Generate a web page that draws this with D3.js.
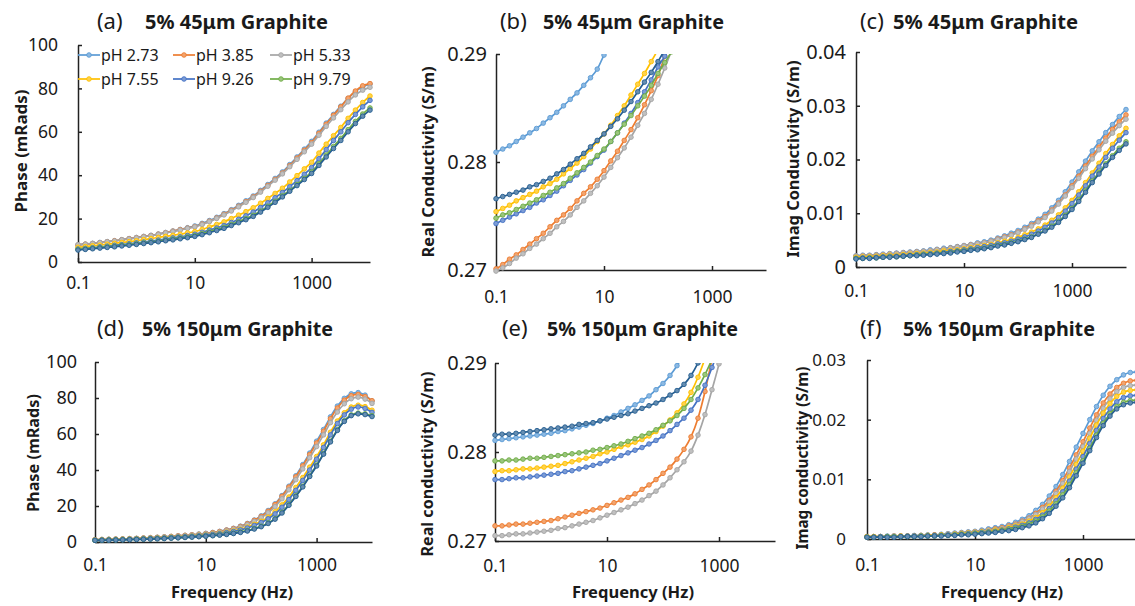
<!DOCTYPE html>
<html>
<head>
<meta charset="utf-8">
<script src="https://cdn.jsdelivr.net/npm/d3@7"></script>
<style>
  html, body { margin: 0; padding: 0; background: #fff; }
  svg { display: block; font-family: "Noto Sans", "Open Sans", sans-serif; }
</style>
</head>
<body>
<svg id="fig" width="1135" height="606"></svg>
<script>
// Measurement frequencies (Hz), 8 per decade from 0.1 Hz to 10 kHz
const frequency = [0.1,0.1334,0.1778,0.2371,0.3162,0.4217,0.5623,0.7499,1,1.334,1.778,2.371,3.162,4.217,5.623,7.499,10,13.34,17.78,23.71,31.62,42.17,56.23,74.99,100,133.4,177.8,237.1,316.2,421.7,562.3,749.9,1000,1334,1778,2371,3162,4217,5623,7499,10000];

const legendLabels = ["pH 2.73", "pH 3.85", "pH 5.33", "pH 7.55", "pH 9.26", "pH 9.79"];
const seriesColors = ["#5B9BD5", "#ED7D31", "#A5A5A5", "#FFC000", "#4472C4", "#70AD47", "#255E91"];

const xTickValues = [0.1, 10, 1000];
const phaseTicks = [0, 20, 40, 60, 80, 100];
const realTicks = [0.27, 0.28, 0.29];
const imagTicks45 = [0, 0.01, 0.02, 0.03, 0.04];
const imagTicks150 = [0, 0.01, 0.02, 0.03];

// (a) phase, 45 µm graphite (mrad)
const phase45 = [
  [7.9,8.2,8.6,9,9.4,9.8,10.3,10.8,11.3,11.8,12.3,12.9,13.6,14.3,15,15.8,16.6,17.8,19.1,20.6,22.3,24.1,26.1,28.2,30.4,33,35.7,38.5,41.5,44.9,48.4,52,55.6,59.8,64,68,71.8,75.4,78.5,80.8,82],
  [7.8,8.2,8.5,8.9,9.3,9.8,10.2,10.7,11.2,11.7,12.2,12.8,13.5,14.2,14.9,15.6,16.3,17.5,18.8,20.3,22,23.8,25.7,27.8,30,32.6,35.3,38.1,41,44.4,47.9,51.5,55,59.3,63.5,67.6,71.5,75.5,78.8,81.2,82.2],
  [7.9,8.2,8.5,8.9,9.3,9.7,10.2,10.6,11.1,11.6,12.1,12.7,13.4,14,14.7,15.5,16.2,17.3,18.6,20.1,21.7,23.5,25.4,27.5,29.7,32.2,34.9,37.7,40.6,43.9,47.3,50.8,54.3,58.4,62.5,66.4,70.2,73.8,77,79.2,80.5],
  [6.8,7.1,7.5,7.8,8.2,8.6,9,9.4,9.8,10.3,10.8,11.3,11.8,12.3,12.8,13.4,14,15,16.1,17.3,18.5,20,21.6,23.2,25,27.1,29.3,31.6,34,36.9,39.8,42.9,46,50.2,54.3,58.2,62,66.2,70,73.5,76.5],
  [6,6.3,6.6,7,7.3,7.7,8,8.4,8.8,9.2,9.7,10.1,10.6,11.1,11.6,12.2,12.8,13.7,14.7,15.7,16.8,18.2,19.7,21.3,23,25.1,27.3,29.6,32,34.7,37.5,40.4,43.5,47.6,51.8,56,60,64.2,68,71.5,74.5],
  [5.8,6.1,6.4,6.7,7,7.3,7.7,8,8.4,8.8,9.2,9.6,10.1,10.6,11.1,11.6,12.2,13.1,14,15,16,17.3,18.6,20,21.5,23.5,25.7,28,30.5,33,35.7,38.5,41.5,45.3,49.3,53.2,57,61,64.8,68.2,71],
  [5.5,5.8,6.1,6.4,6.7,7,7.4,7.7,8.1,8.5,8.9,9.3,9.8,10.2,10.7,11.2,11.8,12.6,13.5,14.5,15.5,16.8,18.1,19.5,21,23,25.2,27.5,30,32.6,35.2,38,40.8,44.5,48.4,52.3,56,60,63.8,67.2,70]
];

// (b) real conductivity, 45 µm graphite (S/m); readings stop once above the axis range
const realCond45 = [
  [0.2809,0.2812,0.2815,0.2819,0.2823,0.2827,0.2831,0.2836,0.2841,0.2846,0.2852,0.2858,0.2864,0.2871,0.2878,0.2886,0.2899,0.2910],
  [0.2701,0.2705,0.2710,0.2714,0.2719,0.2724,0.2729,0.2734,0.2740,0.2746,0.2751,0.2757,0.2764,0.2771,0.2777,0.2784,0.2792,0.2801,0.2810,0.2820,0.2830,0.2841,0.2853,0.2866,0.2880,0.2898,0.2918],
  [0.2699,0.2702,0.2706,0.2711,0.2715,0.2720,0.2724,0.2729,0.2734,0.2740,0.2745,0.2751,0.2758,0.2764,0.2771,0.2778,0.2786,0.2795,0.2804,0.2813,0.2823,0.2834,0.2845,0.2858,0.2872,0.2887,0.2903],
  [0.2754,0.2757,0.2760,0.2764,0.2767,0.2770,0.2773,0.2777,0.2780,0.2784,0.2789,0.2794,0.2799,0.2805,0.2812,0.2819,0.2826,0.2834,0.2843,0.2852,0.2862,0.2872,0.2882,0.2893,0.2904],
  [0.2743,0.2746,0.2749,0.2752,0.2755,0.2758,0.2762,0.2765,0.2769,0.2773,0.2778,0.2783,0.2788,0.2793,0.2799,0.2805,0.2811,0.2819,0.2827,0.2836,0.2845,0.2855,0.2865,0.2876,0.2888,0.2898,0.2910],
  [0.2748,0.2751,0.2753,0.2756,0.2759,0.2762,0.2765,0.2769,0.2772,0.2776,0.2780,0.2785,0.2790,0.2795,0.2800,0.2806,0.2812,0.2819,0.2827,0.2835,0.2843,0.2852,0.2861,0.2871,0.2882,0.2892,0.2902],
  [0.2766,0.2768,0.2770,0.2772,0.2774,0.2777,0.2779,0.2782,0.2785,0.2789,0.2793,0.2798,0.2803,0.2808,0.2814,0.2820,0.2826,0.2833,0.2840,0.2848,0.2856,0.2865,0.2874,0.2883,0.2893,0.2904]
];

// (c) imaginary conductivity, 45 µm graphite (S/m)
const imagCond45 = [
  [0.0021,0.0022,0.0022,0.0023,0.0024,0.0025,0.0026,0.0027,0.0028,0.0029,0.0030,0.0032,0.0033,0.0035,0.0036,0.0038,0.0040,0.0042,0.0045,0.0047,0.0050,0.0054,0.0058,0.0063,0.0068,0.0074,0.0081,0.0089,0.0098,0.0110,0.0124,0.0140,0.0158,0.0177,0.0197,0.0216,0.0233,0.0250,0.0265,0.0280,0.0293],
  [0.0020,0.0021,0.0021,0.0022,0.0023,0.0024,0.0025,0.0026,0.0027,0.0028,0.0029,0.0030,0.0032,0.0033,0.0035,0.0037,0.0039,0.0041,0.0043,0.0045,0.0048,0.0052,0.0056,0.0060,0.0065,0.0071,0.0078,0.0086,0.0094,0.0106,0.0119,0.0134,0.0151,0.0169,0.0188,0.0206,0.0223,0.0240,0.0256,0.0270,0.0283],
  [0.0020,0.0021,0.0021,0.0022,0.0023,0.0024,0.0025,0.0026,0.0027,0.0028,0.0029,0.0030,0.0032,0.0033,0.0035,0.0037,0.0039,0.0041,0.0043,0.0045,0.0048,0.0051,0.0055,0.0059,0.0064,0.0070,0.0076,0.0084,0.0092,0.0104,0.0117,0.0132,0.0148,0.0165,0.0183,0.0201,0.0218,0.0234,0.0249,0.0263,0.0275],
  [0.0018,0.0019,0.0019,0.0020,0.0021,0.0022,0.0022,0.0023,0.0024,0.0025,0.0026,0.0027,0.0028,0.0030,0.0031,0.0032,0.0034,0.0036,0.0038,0.0040,0.0042,0.0045,0.0048,0.0051,0.0055,0.0060,0.0065,0.0071,0.0078,0.0087,0.0097,0.0110,0.0124,0.0140,0.0157,0.0175,0.0193,0.0211,0.0228,0.0244,0.0258],
  [0.0016,0.0017,0.0017,0.0018,0.0019,0.0020,0.0020,0.0021,0.0022,0.0023,0.0024,0.0025,0.0026,0.0027,0.0029,0.0030,0.0032,0.0034,0.0036,0.0038,0.0040,0.0043,0.0045,0.0048,0.0052,0.0056,0.0061,0.0067,0.0074,0.0082,0.0092,0.0104,0.0118,0.0134,0.0151,0.0169,0.0186,0.0204,0.0221,0.0236,0.0250],
  [0.0016,0.0016,0.0017,0.0017,0.0018,0.0019,0.0019,0.0020,0.0021,0.0022,0.0023,0.0024,0.0025,0.0026,0.0027,0.0029,0.0030,0.0032,0.0033,0.0035,0.0037,0.0040,0.0042,0.0045,0.0048,0.0052,0.0056,0.0062,0.0068,0.0076,0.0085,0.0096,0.0109,0.0125,0.0142,0.0160,0.0176,0.0192,0.0207,0.0221,0.0233],
  [0.0015,0.0016,0.0016,0.0017,0.0018,0.0018,0.0019,0.0020,0.0021,0.0021,0.0022,0.0023,0.0024,0.0025,0.0026,0.0028,0.0029,0.0031,0.0032,0.0034,0.0036,0.0039,0.0041,0.0044,0.0047,0.0051,0.0055,0.0061,0.0067,0.0074,0.0083,0.0094,0.0107,0.0122,0.0139,0.0157,0.0173,0.0189,0.0204,0.0217,0.0229]
];

// (d) phase, 150 µm graphite (mrad)
const phase150 = [
  [1.3,1.4,1.5,1.6,1.7,1.85,2.0,2.2,2.4,2.6,2.85,3.1,3.4,3.7,4.0,4.4,4.8,5.3,5.9,6.7,7.6,8.8,10.3,12.2,14.5,17.5,21.2,25.8,31,36.8,43,49.4,56,62.5,69.5,75.5,79.8,82.3,83,81.6,78.3],
  [1.3,1.4,1.5,1.6,1.7,1.85,2,2.2,2.4,2.6,2.8,3.1,3.4,3.7,4,4.3,4.7,5.2,5.8,6.6,7.5,8.6,10.1,12,14.2,17.1,20.8,25.4,30.5,36.2,42.3,48.6,55,61.5,68.5,74.4,78.8,81.3,82,80.8,78.5],
  [1.2,1.3,1.4,1.5,1.6,1.75,1.9,2.1,2.3,2.5,2.7,2.95,3.2,3.5,3.8,4.1,4.5,4.9,5.5,6.2,7.1,8.2,9.6,11.4,13.5,16.2,19.6,24,29,34.6,40.6,46.8,53,59.5,66.3,72.2,76.8,79.6,80.5,79.4,77],
  [1.1,1.2,1.3,1.4,1.5,1.6,1.75,1.9,2.1,2.3,2.45,2.7,2.9,3.1,3.4,3.7,4,4.4,4.9,5.5,6.2,7.1,8.3,9.8,11.5,13.8,16.8,20.6,25,30.3,35.8,41.6,47.5,54,61,67.2,71.8,75,76,75.2,73.2],
  [1,1.1,1.2,1.3,1.4,1.5,1.65,1.8,2,2.15,2.3,2.55,2.8,3,3.25,3.5,3.8,4.2,4.6,5.2,5.8,6.7,7.8,9.2,10.8,12.9,15.6,19.3,23.6,28.7,34.2,40,46,52.5,59.5,65.8,70.6,73.8,75,74.2,72],
  [0.9,1,1.1,1.2,1.3,1.4,1.5,1.6,1.7,1.85,2,2.2,2.4,2.6,2.8,3.05,3.3,3.6,4,4.4,4.9,5.6,6.4,7.5,8.8,10.6,13,16.5,20.8,25.7,31,36.8,42.7,49.2,56,62.4,67.4,70.6,71.6,71.2,70.2],
  [0.9,0.95,1,1.1,1.2,1.3,1.4,1.5,1.6,1.75,1.9,2.1,2.3,2.5,2.7,2.95,3.2,3.5,3.8,4.2,4.7,5.3,6.1,7.2,8.5,10.3,12.7,16.1,20.4,25.3,30.6,36.4,42.2,48.8,55.6,62,67,70.2,71.2,70.8,69.7]
];

// (e) real conductivity, 150 µm graphite (S/m); readings stop once above the axis range
const realCond150 = [
  [0.2813,0.2814,0.2815,0.2816,0.2817,0.2818,0.2819,0.2820,0.2821,0.2823,0.2824,0.2826,0.2828,0.2830,0.2832,0.2835,0.2838,0.2841,0.2845,0.2849,0.2853,0.2858,0.2863,0.2870,0.2877,0.2886,0.2897,0.2910],
  [0.2717,0.2717,0.2718,0.2719,0.2719,0.2720,0.2721,0.2722,0.2723,0.2725,0.2727,0.2729,0.2731,0.2733,0.2735,0.2737,0.2740,0.2743,0.2746,0.2749,0.2753,0.2758,0.2763,0.2769,0.2776,0.2783,0.2792,0.2803,0.2817,0.2838,0.2868,0.2905],
  [0.2706,0.2706,0.2707,0.2708,0.2708,0.2709,0.2710,0.2711,0.2712,0.2714,0.2715,0.2717,0.2719,0.2721,0.2723,0.2726,0.2729,0.2732,0.2735,0.2738,0.2742,0.2746,0.2751,0.2756,0.2763,0.2771,0.2780,0.2789,0.2801,0.2819,0.2842,0.2870,0.2899,0.2935],
  [0.2778,0.2779,0.2779,0.2780,0.2781,0.2781,0.2782,0.2783,0.2784,0.2785,0.2787,0.2789,0.2791,0.2793,0.2795,0.2798,0.2800,0.2803,0.2806,0.2808,0.2811,0.2814,0.2818,0.2823,0.2829,0.2836,0.2844,0.2854,0.2867,0.2884,0.2905],
  [0.2769,0.2769,0.2770,0.2771,0.2771,0.2772,0.2773,0.2774,0.2775,0.2776,0.2778,0.2779,0.2781,0.2783,0.2785,0.2787,0.2790,0.2793,0.2796,0.2799,0.2802,0.2805,0.2809,0.2813,0.2818,0.2824,0.2831,0.2838,0.2847,0.2859,0.2875,0.2895,0.2916],
  [0.2790,0.2790,0.2791,0.2791,0.2792,0.2793,0.2793,0.2794,0.2795,0.2796,0.2797,0.2798,0.2799,0.2800,0.2802,0.2803,0.2805,0.2807,0.2809,0.2812,0.2815,0.2818,0.2821,0.2825,0.2830,0.2835,0.2841,0.2849,0.2859,0.2872,0.2887,0.2904],
  [0.2819,0.2820,0.2820,0.2821,0.2822,0.2823,0.2824,0.2825,0.2826,0.2827,0.2828,0.2829,0.2831,0.2832,0.2833,0.2835,0.2837,0.2839,0.2841,0.2843,0.2846,0.2849,0.2852,0.2855,0.2859,0.2864,0.2869,0.2876,0.2886,0.2900,0.2918]
];

// (f) imaginary conductivity, 150 µm graphite (S/m)
const imagCond150 = [
  [0.0004,0.0004,0.0004,0.0005,0.0005,0.0005,0.0005,0.0006,0.0006,0.0007,0.0007,0.0008,0.0009,0.0010,0.0011,0.0012,0.0013,0.0015,0.0017,0.0019,0.0021,0.0024,0.0028,0.0033,0.0039,0.0048,0.0058,0.0072,0.0088,0.0108,0.0130,0.0154,0.0177,0.0200,0.0222,0.0241,0.0256,0.0267,0.0275,0.0279,0.0280],
  [0.0004,0.0004,0.0004,0.0004,0.0005,0.0005,0.0005,0.0005,0.0006,0.0006,0.0007,0.0007,0.0008,0.0009,0.0010,0.0011,0.0012,0.0013,0.0015,0.0017,0.0019,0.0022,0.0025,0.0030,0.0035,0.0043,0.0053,0.0065,0.0080,0.0098,0.0119,0.0141,0.0163,0.0186,0.0208,0.0228,0.0243,0.0254,0.0261,0.0265,0.0266],
  [0.0004,0.0004,0.0004,0.0004,0.0005,0.0005,0.0005,0.0005,0.0006,0.0006,0.0006,0.0007,0.0008,0.0009,0.0010,0.0011,0.0012,0.0013,0.0015,0.0016,0.0018,0.0021,0.0024,0.0029,0.0034,0.0041,0.0050,0.0062,0.0076,0.0093,0.0113,0.0134,0.0155,0.0177,0.0199,0.0219,0.0235,0.0247,0.0254,0.0257,0.0258],
  [0.0004,0.0004,0.0004,0.0004,0.0004,0.0005,0.0005,0.0005,0.0005,0.0006,0.0006,0.0007,0.0007,0.0008,0.0009,0.0010,0.0011,0.0012,0.0013,0.0015,0.0016,0.0019,0.0022,0.0025,0.0030,0.0036,0.0044,0.0055,0.0069,0.0085,0.0104,0.0125,0.0147,0.0169,0.0191,0.0211,0.0227,0.0239,0.0246,0.0249,0.0250],
  [0.0003,0.0003,0.0004,0.0004,0.0004,0.0004,0.0005,0.0005,0.0005,0.0005,0.0006,0.0006,0.0007,0.0007,0.0008,0.0009,0.0010,0.0011,0.0012,0.0013,0.0015,0.0017,0.0020,0.0023,0.0027,0.0033,0.0040,0.0051,0.0064,0.0079,0.0097,0.0117,0.0138,0.0160,0.0182,0.0202,0.0218,0.0230,0.0237,0.0240,0.0241],
  [0.0003,0.0003,0.0003,0.0004,0.0004,0.0004,0.0004,0.0004,0.0005,0.0005,0.0005,0.0006,0.0006,0.0007,0.0008,0.0008,0.0009,0.0010,0.0011,0.0012,0.0014,0.0016,0.0018,0.0021,0.0025,0.0030,0.0037,0.0047,0.0059,0.0074,0.0091,0.0111,0.0131,0.0152,0.0174,0.0194,0.0210,0.0222,0.0229,0.0232,0.0233],
  [0.0003,0.0003,0.0003,0.0003,0.0003,0.0004,0.0004,0.0004,0.0004,0.0005,0.0005,0.0005,0.0006,0.0006,0.0007,0.0007,0.0008,0.0009,0.0010,0.0011,0.0013,0.0014,0.0016,0.0019,0.0022,0.0027,0.0034,0.0043,0.0055,0.0069,0.0086,0.0106,0.0127,0.0148,0.0170,0.0190,0.0206,0.0218,0.0225,0.0228,0.0229]
];

// Panel layout
const panels = [
  { data: phase45, x0: 78, x1: 370, yTop: 45, yBot: 262, yDomain: [0, 100], yTicks: phaseTicks, yPad: 20, xPad: 15, yFont: 17.5,
    letter: "(a)", letterX: 97, title: "5% 45μm Graphite", titleX: 145, titleW: 183, titleY: 29,
    yTitle: "Phase (mRads)", yTitleW: 123, yTitleX: 21, yTitleY: 151, legend: true },
  { data: realCond45, x0: 496, x1: 766, yTop: 54, yBot: 270, yDomain: [0.27, 0.29], yTicks: realTicks, yPad: 9, xPad: 21, yFont: 20,
    letter: "(b)", letterX: 500, title: "5% 45μm Graphite", titleX: 543, titleW: 181, titleY: 29,
    yTitle: "Real Conductivity (S/m)", yTitleW: 191, yTitleX: 428, yTitleY: 162 },
  { data: imagCond45, x0: 856, x1: 1126, yTop: 52, yBot: 267, yDomain: [0, 0.04], yTicks: imagTicks45, yPad: 10, xPad: 18, yFont: 20,
    letter: "(c)", letterX: 860, title: "5% 45μm Graphite", titleX: 893, titleW: 185, titleY: 29,
    yTitle: "Imag Conductivity (S/m)", yTitleW: 197, yTitleX: 793, yTitleY: 159 },
  { data: phase150, x0: 95, x1: 372, yTop: 362, yBot: 542, yDomain: [0, 100], yTicks: phaseTicks, yPad: 18, xPad: 17, yFont: 18,
    letter: "(d)", letterX: 97, title: "5% 150μm Graphite", titleX: 142, titleW: 191, titleY: 336,
    yTitle: "Phase (mRads)", yTitleW: 118, yTitleX: 33, yTitleY: 453, xTitleX: 232 },
  { data: realCond150, x0: 495, x1: 775, yTop: 363, yBot: 541, yDomain: [0.27, 0.29], yTicks: realTicks, yPad: 8, xPad: 19, yFont: 20,
    letter: "(e)", letterX: 502, title: "5% 150μm Graphite", titleX: 547, titleW: 191, titleY: 336,
    yTitle: "Real conductivity (S/m)", yTitleW: 185, yTitleX: 427, yTitleY: 464, xTitleX: 633 },
  { data: imagCond150, x0: 867, x1: 1137, yTop: 360, yBot: 539, yDomain: [0, 0.03], yTicks: imagTicks150, yPad: 21, xPad: 20, yFont: 17,
    letter: "(f)", letterX: 860, title: "5% 150μm Graphite", titleX: 903, titleW: 192, titleY: 336,
    yTitle: "Imag conductivity (S/m)", yTitleW: 183, yTitleX: 802, yTitleY: 458, xTitleX: 1002 }
];

const svg = d3.select("#fig");
const defs = svg.append("defs");
const textColor = "#1a1a1a";
const axisColor = "#222";
const markerFill = c => d3.interpolateRgb(c, "#ffffff")(0.3);

panels.forEach((p, pi) => {
  const x = d3.scaleLog().domain([0.1, 10000]).range([p.x0, p.x1]);
  const y = d3.scaleLinear().domain(p.yDomain).range([p.yBot, p.yTop]);
  const g = svg.append("g");

  const clipId = "plot-clip-" + pi;
  defs.append("clipPath").attr("id", clipId)
    .append("rect")
    .attr("x", p.x0 - 4).attr("y", p.yTop)
    .attr("width", p.x1 - p.x0 + 8).attr("height", p.yBot - p.yTop + 4);

  // axes
  const yAxis = d3.axisLeft(y).tickValues(p.yTicks).tickFormat(d => String(d))
    .tickSizeInner(-4).tickSizeOuter(0).tickPadding(p.yPad);
  const xAxis = d3.axisBottom(x).tickValues(xTickValues).tickFormat(d => String(d))
    .tickSizeInner(-4).tickSizeOuter(0).tickPadding(p.xPad);

  [ [yAxis, `translate(${p.x0},0)`, p.yFont], [xAxis, `translate(0,${p.yBot})`, 17.5] ].forEach(([ax, tr, fs]) => {
    const a = g.append("g").attr("transform", tr).call(ax)
      .attr("font-family", null).attr("font-size", null);
    a.select(".domain").attr("stroke", axisColor).attr("stroke-width", 1.5);
    a.selectAll(".tick line").attr("stroke", axisColor).attr("stroke-width", 1.5);
    a.selectAll(".tick text").attr("fill", textColor).style("font-size", fs + "px");
  });

  // series
  const plot = g.append("g").attr("clip-path", `url(#${clipId})`);
  const line = d3.line()
    .x((d, i) => x(frequency[i]))
    .y(d => y(d))
    .curve(d3.curveMonotoneX);

  p.data.forEach((vals, si) => {
    const col = seriesColors[si];
    plot.append("path").datum(vals)
      .attr("fill", "none").attr("stroke", col).attr("stroke-width", 1.7)
      .attr("d", line);
    plot.append("g").selectAll("circle").data(vals).join("circle")
      .attr("cx", (d, i) => x(frequency[i]))
      .attr("cy", d => y(d))
      .attr("r", 2.3)
      .attr("fill", markerFill(col))
      .attr("stroke", col).attr("stroke-width", 0.9);
  });

  // panel title
  g.append("text").attr("x", p.letterX).attr("y", p.titleY).attr("fill", textColor)
    .style("font-size", "22px").text(p.letter);
  g.append("text").attr("x", p.titleX).attr("y", p.titleY).attr("fill", textColor)
    .style("font-size", "19.5px").style("font-weight", "bold")
    .attr("textLength", p.titleW).attr("lengthAdjust", "spacingAndGlyphs")
    .text(p.title);

  // y-axis title
  g.append("text")
    .attr("transform", `translate(${p.yTitleX},${p.yTitleY}) rotate(-90)`)
    .attr("text-anchor", "middle").attr("dominant-baseline", "central")
    .attr("fill", textColor).style("font-size", "16px").style("font-weight", "bold")
    .attr("textLength", p.yTitleW).attr("lengthAdjust", "spacingAndGlyphs")
    .text(p.yTitle);

  // x-axis title (bottom row only)
  if (p.xTitleX !== undefined) {
    g.append("text").attr("x", p.xTitleX).attr("y", 598)
      .attr("text-anchor", "middle").attr("fill", textColor)
      .style("font-size", "16px").style("font-weight", "bold")
      .attr("textLength", 122).attr("lengthAdjust", "spacingAndGlyphs")
      .text("Frequency (Hz)");
  }

  // legend
  if (p.legend) {
    const colX = [78, 173, 270];
    const rowY = [55, 79];
    legendLabels.forEach((lab, li) => {
      const lx = colX[li % 3], ly = rowY[Math.floor(li / 3)];
      const col = seriesColors[li];
      const lg = g.append("g");
      lg.append("line").attr("x1", lx).attr("x2", lx + 22).attr("y1", ly).attr("y2", ly)
        .attr("stroke", col).attr("stroke-width", 1.7);
      lg.append("circle").attr("cx", lx + 11).attr("cy", ly).attr("r", 2.3)
        .attr("fill", markerFill(col)).attr("stroke", col).attr("stroke-width", 0.9);
      lg.append("text").attr("x", lx + 23).attr("y", ly + 6)
        .attr("fill", textColor).style("font-size", "16px").text(lab);
    });
  }
});
</script>
</body>
</html>
